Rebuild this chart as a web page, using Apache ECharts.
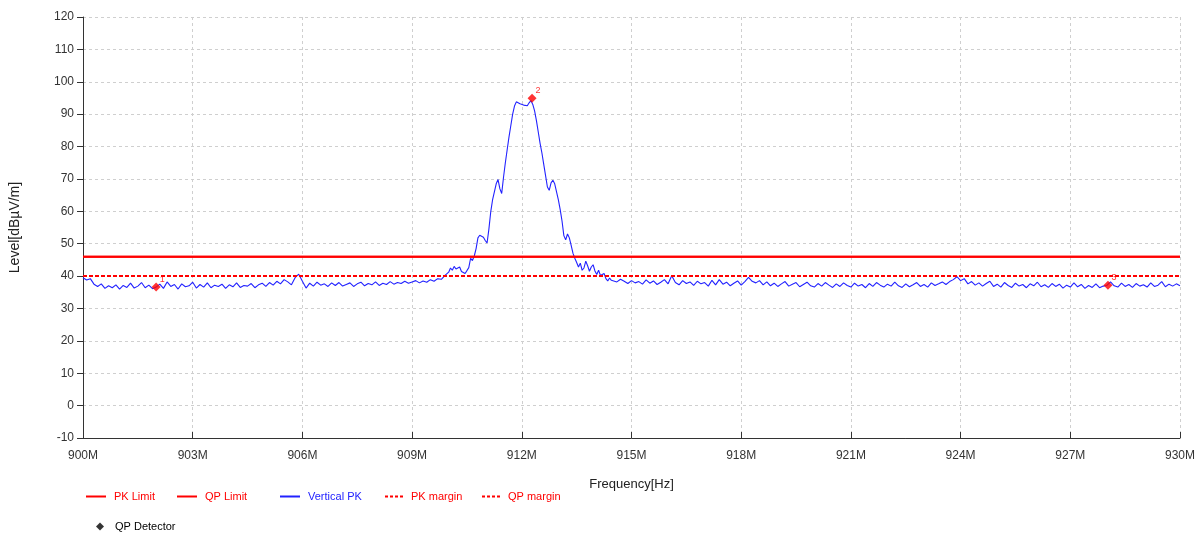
<!DOCTYPE html>
<html>
<head>
<meta charset="utf-8">
<style>html,body{margin:0;padding:0;background:#fff}#c{width:1203px;height:539px}</style>
<script src="https://cdn.jsdelivr.net/npm/echarts@6/dist/echarts.min.js"></script>
</head>
<body>
<div id="c"></div>
<script>
// Sweep segments (MHz start, step) and measured levels (dBµV/m)
const segA = {start: 900.0, step: 0.1};
const levelsA = [
39.5,38.8,39.2,37.5,36.8,37.6,36.2,37.0,36.4,37.3,
36.0,37.1,36.5,37.8,36.3,36.9,38.0,36.4,37.2,36.1,
36.6,37.5,36.2,38.2,36.8,37.4,36.0,37.6,36.7,37.0,
38.1,36.3,37.4,36.6,37.9,36.4,37.2,36.8,37.5,36.2,
37.3,36.7,37.9,36.5,37.1,36.9,37.7,36.4,37.3,37.8,
36.8,38.0,37.2,38.4,37.6,38.9,38.2,37.3,39.5,40.6,
38.4,36.3,37.8,36.9,38.1,37.2,37.6,36.8,37.9,37.1,
38.0,36.9,37.4,37.9,36.8,37.6,38.1,37.0,37.7,37.3,
38.2,37.1,37.8,37.4,38.3,37.5,38.0,37.7,38.4,37.8,
38.2,38.6,37.9,38.5,38.1,38.9,38.4,39.2,39.0,40.2
];
const segB = {start: 910.0, step: 0.05};
const levelsB = [
41.2,42.5,41.8,43.0,42.2,41.6,42.8,41.4,42.0,40.8,
40.2,42.6,45.5,44.8,46.2,48.5,51.8,52.6,53.2,52.0,
51.0,50.2,54.5,59.8,63.5,66.0,68.5,69.8,67.0,65.5,
70.5,75.0,79.0,83.0,86.5,90.0,92.5,93.8,93.6,93.2,
93.7,92.8,93.3,92.6,93.5,94.2,93.0,91.0,88.0,84.5,
81.0,78.0,74.5,71.0,67.5,66.5,68.8,69.6,68.5,66.0,
63.5,60.5,57.0,52.5,51.2,53.0,51.8,49.5,47.0,45.5,
44.2,42.8,44.0,41.8,42.5,44.6,43.2,41.5,42.8,43.5,
41.6,40.5,41.8,40.2,39.6,40.8,39.2,38.5,39.4,38.7,
38.9
];
const segC = {start: 914.6, step: 0.1};
const levelsC = [
38.2,39.0,38.4,37.7,38.6,37.9,38.3,37.5,38.8,37.8,
38.5,37.4,38.1,38.9,37.6,40.1,38.0,37.3,38.6,37.7,
38.2,37.1,38.4,37.6,38.0,36.9,38.7,37.3,38.9,37.5,
38.1,37.0,37.8,38.5,37.2,38.3,39.6,38.4,37.9,38.6,
37.3,38.2,37.0,37.8,36.8,37.6,38.3,36.9,37.5,38.0,
36.7,37.4,38.1,37.0,36.6,37.7,36.9,38.0,37.2,36.5,
37.6,36.8,37.9,37.1,36.6,37.8,36.9,37.4,36.4,37.7,
36.8,38.0,37.2,36.6,37.5,36.9,38.1,37.0,36.5,37.6,
36.7,37.3,38.0,36.8,37.4,36.6,37.9,37.1,37.6,38.2,
37.4,38.3,38.9,39.8,38.6,39.2,37.6,38.3,37.2,37.9,
36.9,37.7,38.4,36.8,37.5,36.6,38.0,37.1,36.5,37.8,
36.9,37.4,36.4,37.6,37.0,38.1,36.7,37.3,36.5,37.7,
36.8,37.5,36.3,37.2,36.6,37.9,36.7,37.4,36.2,37.1,
36.5,37.6,36.4,36.9,37.1,38.2,37.0,36.6,37.8,36.8,
37.4,36.5,37.7,36.9,37.3,36.6,37.9,36.8,37.2,38.3,
36.7,37.5,36.9,37.6,37.0
];
const pkLimit = 46;
const qpLimit = 46;
const pkMargin = 40;
const qpMargin = 40;
const markerFreqs = [902.0, 912.28, 928.03];
const markerLevels = [36.6, 94.9, 37.2];
const markerLabels = ['1', '2', '3'];
const xTicks = {min: 900, max: 930, interval: 3};
const yTicks = {min: -10, max: 120, interval: 10};

function seg(s, vals) {
  return vals.map((v, i) => [Math.round((s.start + i * s.step) * 1000) / 1000, v]);
}
const trace = seg(segA, levelsA).concat(seg(segB, levelsB), seg(segC, levelsC));
const span = (v) => [[xTicks.min, v], [xTicks.max, v]];
const markers = markerFreqs.map((f, i) => ({value: [f, markerLevels[i]], name: markerLabels[i]}));

const FONT = 'Liberation Sans, Arial, sans-serif';
const RED = '#ff0000', BLUE = '#2222ff';
const SOLID_ICON = 'path://M0,0H20V2H0Z';
const DASH_ICON = 'path://M0,0H3V2H0Z M5,0H8V2H5Z M10,0H13V2H10Z M15,0H18V2H15Z';

function leg(name, left, color, icon, w) {
  return {
    data: [{name: name, icon: icon}], left: left, top: 491, itemWidth: w, itemHeight: 2, itemGap: 0,
    padding: 0, itemStyle: {color: color, borderWidth: 0}, lineStyle: {opacity: 0},
    textStyle: {color: color, fontSize: 11, fontFamily: FONT, padding: [0, 0, 0, 3]}
  };
}

const chart = echarts.init(document.getElementById('c'), null, {renderer: 'canvas'});
chart.setOption({
  animation: false,
  backgroundColor: '#fff',
  grid: {left: 82, right: 23, top: 17, bottom: 101, containLabel: false},
  legend: [
    leg('PK Limit', 86, RED, SOLID_ICON, 20),
    leg('QP Limit', 177, RED, SOLID_ICON, 20),
    leg('Vertical PK', 280, BLUE, SOLID_ICON, 20),
    leg('PK margin', 385, RED, DASH_ICON, 18),
    leg('QP margin', 482, RED, DASH_ICON, 18),
    {data: [{name: 'QP Detector', icon: 'diamond', itemStyle: {color: '#000'}}],
     left: 96, top: 521, itemWidth: 8, itemHeight: 8, padding: 0,
     textStyle: {color: '#000', fontSize: 11, fontFamily: FONT, padding: [0, 0, 0, 6]}}
  ],
  xAxis: {
    type: 'value', min: xTicks.min, max: xTicks.max, interval: xTicks.interval,
    name: 'Frequency[Hz]', nameLocation: 'middle', nameGap: 40,
    nameTextStyle: {color: '#222', fontSize: 13, fontFamily: FONT},
    axisLine: {onZero: false, lineStyle: {color: '#333', width: 1}},
    axisTick: {inside: true, length: 6, lineStyle: {color: '#333'}},
    axisLabel: {formatter: (v) => v + 'M', color: '#333', fontSize: 12, fontFamily: FONT, margin: 12},
    splitLine: {show: true, lineStyle: {color: '#cfcfcf', type: [3, 3], width: 1}}
  },
  yAxis: {
    type: 'value', min: yTicks.min, max: yTicks.max, interval: yTicks.interval,
    name: 'Level[dBµV/m]', nameLocation: 'middle', nameGap: 61, nameRotate: 90,
    nameTextStyle: {color: '#222', fontSize: 14, fontFamily: FONT},
    axisLine: {show: true, lineStyle: {color: '#333', width: 1}},
    axisTick: {show: true, inside: false, length: 6, lineStyle: {color: '#333'}},
    axisLabel: {color: '#333', fontSize: 12, fontFamily: FONT, margin: 9},
    splitLine: {show: true, lineStyle: {color: '#cfcfcf', type: [3, 3], width: 1}}
  },
  series: [
    {name: 'Vertical PK', type: 'line', data: trace, symbol: 'none', z: 2,
     lineStyle: {color: BLUE, width: 1.1}, itemStyle: {color: BLUE}},
    {name: 'PK Limit', type: 'line', data: span(pkLimit), symbol: 'none', z: 3,
     lineStyle: {color: RED, width: 2}, itemStyle: {color: RED}},
    {name: 'QP Limit', type: 'line', data: span(qpLimit), symbol: 'none', z: 3,
     lineStyle: {color: RED, width: 2}, itemStyle: {color: RED}},
    {name: 'PK margin', type: 'line', data: span(pkMargin), symbol: 'none', z: 3,
     lineStyle: {color: RED, width: 2, type: [4, 2]}, itemStyle: {color: RED}},
    {name: 'QP margin', type: 'line', data: span(qpMargin), symbol: 'none', z: 3,
     lineStyle: {color: RED, width: 2, type: [4, 2]}, itemStyle: {color: RED}},
    {name: 'QP Detector', type: 'scatter', data: markers, symbol: 'diamond', symbolSize: 9, z: 5,
     itemStyle: {color: RED},
     label: {show: true, formatter: (p) => p.name, position: 'right', distance: 0, offset: [-1, -8],
             color: RED, fontSize: 9, fontFamily: FONT}}
  ]
});
</script>
</body>
</html>
